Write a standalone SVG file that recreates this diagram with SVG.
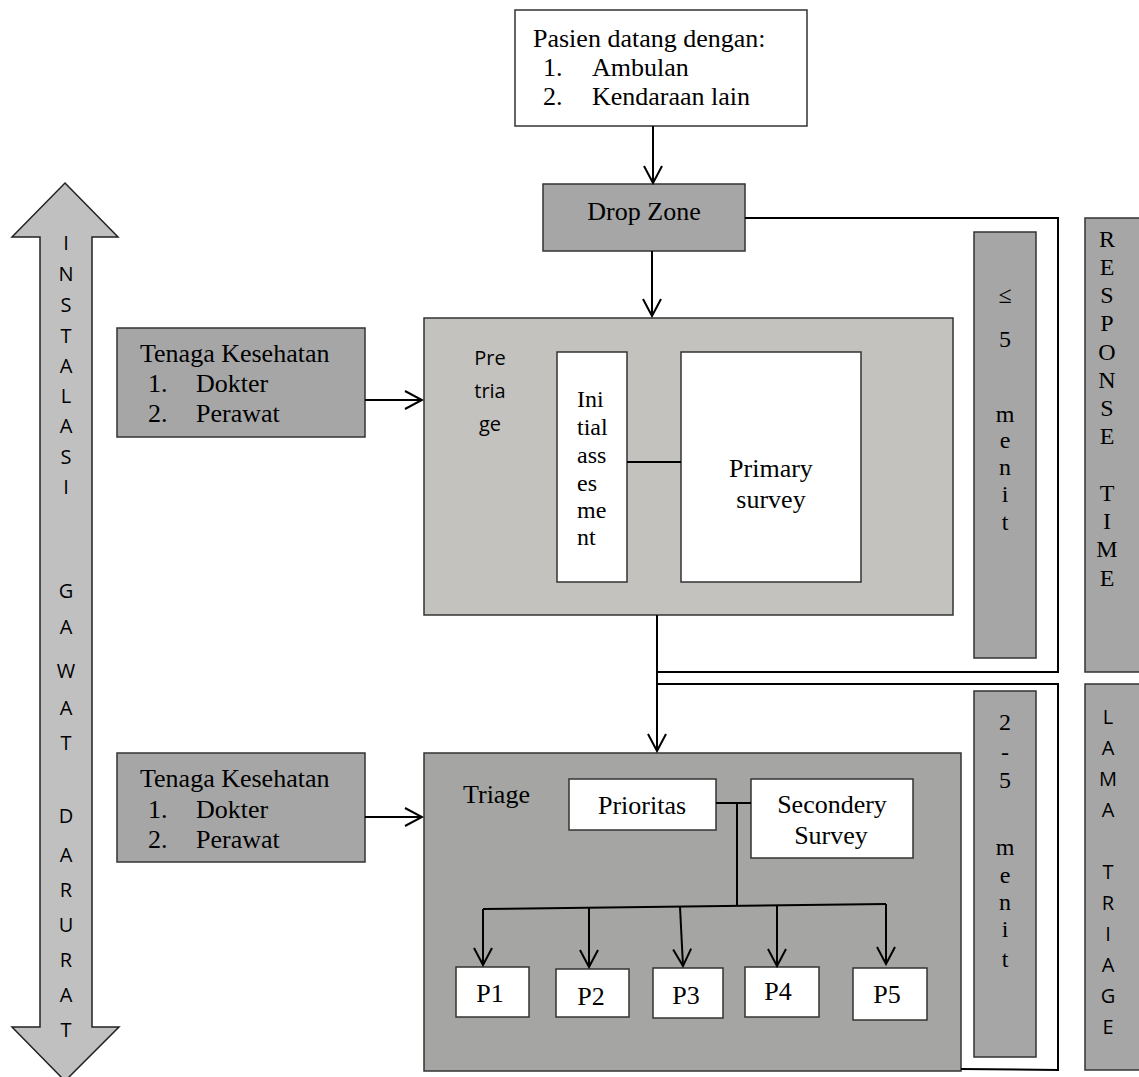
<svg xmlns="http://www.w3.org/2000/svg" width="1139" height="1077" viewBox="0 0 1139 1077">
  <defs>
    <marker id="vhead" viewBox="0 0 20 20" refX="18" refY="10" markerWidth="20" markerHeight="20" markerUnits="userSpaceOnUse" orient="auto">
      <path d="M1,1 L18,10 L1,19" fill="none" stroke="#000" stroke-width="2"/>
    </marker>
  </defs>
  <style>
    .serif { font-family: "Liberation Serif", "Times New Roman", serif; fill: #000; }
    .sans { font-family: "Open Sans", "Noto Sans", sans-serif; fill: #000; }
    .f26 { font-size: 26px; }
    .f24 { font-size: 24px; }
    .f20 { font-size: 20px; }
    .mid { text-anchor: middle; }
    .box { stroke: #333; stroke-width: 1.5; }
    .white { fill: #fff; }
    .dark { fill: #a6a6a6; }
    .light { fill: #c3c2bf; }
    .triagefill { fill: #a5a6a3; }
    .wire { fill: none; stroke: #000; stroke-width: 2; }
    .arrow { fill: none; stroke: #000; stroke-width: 2; marker-end: url(#vhead); }
  </style>

  <rect width="1139" height="1077" fill="#fff"/>

  <!-- Vertical double arrow: emergency unit -->
  <g id="instalasi">
    <polygon points="65,183 118,237 92,237 92,1027 119,1027 65,1081 12,1027 40,1027 40,237 12,237" fill="#c0c0c0" stroke="#222" stroke-width="1.5"/>
    <g class="sans f20 mid">
      <text x="66" y="250">I</text>
      <text x="66" y="281">N</text>
      <text x="66" y="312">S</text>
      <text x="66" y="343">T</text>
      <text x="66" y="373">A</text>
      <text x="66" y="403">L</text>
      <text x="66" y="433">A</text>
      <text x="66" y="464">S</text>
      <text x="66" y="494">I</text>
      <text x="66" y="598">G</text>
      <text x="66" y="634">A</text>
      <text x="66" y="678">W</text>
      <text x="66" y="715">A</text>
      <text x="66" y="750">T</text>
      <text x="66" y="823">D</text>
      <text x="66" y="862">A</text>
      <text x="66" y="897">R</text>
      <text x="66" y="932">U</text>
      <text x="66" y="967">R</text>
      <text x="66" y="1002">A</text>
      <text x="66" y="1037">T</text>
    </g>
  </g>

  <!-- Arrival -->
  <g id="pasien">
    <rect class="box white" x="515" y="10" width="292" height="116"/>
    <text class="serif f26" x="533" y="47">Pasien datang dengan:</text>
    <text class="serif f26" x="543" y="76">1.</text>
    <text class="serif f26" x="592" y="76">Ambulan</text>
    <text class="serif f26" x="543" y="105">2.</text>
    <text class="serif f26" x="592" y="105">Kendaraan lain</text>
  </g>

  <g id="dropzone">
    <rect class="box dark" x="543" y="184" width="202" height="67"/>
    <text class="serif f26 mid" x="644" y="220">Drop Zone</text>
  </g>

  <!-- Health staff, pre-triage -->
  <g id="tenaga1">
    <rect class="box dark" x="117" y="328" width="248" height="109"/>
    <text class="serif f26" x="140" y="362">Tenaga Kesehatan</text>
    <text class="serif f26" x="148" y="392">1.</text>
    <text class="serif f26" x="196" y="392">Dokter</text>
    <text class="serif f26" x="148" y="422">2.</text>
    <text class="serif f26" x="196" y="422">Perawat</text>
  </g>

  <g id="pretriage">
    <rect class="box light" x="424" y="318" width="529" height="297"/>
    <text class="sans f20 mid" x="490" y="365">Pre</text>
    <text class="sans f20 mid" x="490" y="398">tria</text>
    <text class="sans f20 mid" x="490" y="431">ge</text>
  </g>

  <g id="initial-assesment">
    <rect class="box white" x="557" y="352" width="70" height="230"/>
    <text class="serif f24" x="577" y="407">Ini</text>
    <text class="serif f24" x="577" y="435">tial</text>
    <text class="serif f24" x="577" y="463">ass</text>
    <text class="serif f24" x="577" y="491">es</text>
    <text class="serif f24" x="577" y="518">me</text>
    <text class="serif f24" x="577" y="545">nt</text>
  </g>

  <g id="primary-survey">
    <rect class="box white" x="681" y="352" width="180" height="230"/>
    <text class="serif f26 mid" x="771" y="477">Primary</text>
    <text class="serif f26 mid" x="771" y="508">survey</text>
  </g>

  <!-- Response time, 5 minutes -->
  <g id="menit5">
    <rect class="box dark" x="974" y="232" width="62" height="426"/>
    <g class="serif f24 mid">
      <text x="1005" y="303">≤</text>
      <text x="1005" y="347">5</text>
      <text x="1005" y="422">m</text>
      <text x="1005" y="448">e</text>
      <text x="1005" y="475">n</text>
      <text x="1005" y="502">i</text>
      <text x="1005" y="530">t</text>
    </g>
  </g>

  <g id="response-time">
    <rect class="box dark" x="1085" y="218" width="60" height="454"/>
    <g class="serif f24 mid">
      <text x="1107" y="247">R</text>
      <text x="1107" y="275">E</text>
      <text x="1107" y="303">S</text>
      <text x="1107" y="331">P</text>
      <text x="1107" y="360">O</text>
      <text x="1107" y="388">N</text>
      <text x="1107" y="416">S</text>
      <text x="1107" y="444">E</text>
      <text x="1107" y="501">T</text>
      <text x="1107" y="529">I</text>
      <text x="1107" y="557">M</text>
      <text x="1107" y="586">E</text>
    </g>
  </g>

  <!-- Health staff, triage -->
  <g id="tenaga2">
    <rect class="box dark" x="117" y="753" width="248" height="109"/>
    <text class="serif f26" x="140" y="787">Tenaga Kesehatan</text>
    <text class="serif f26" x="148" y="818">1.</text>
    <text class="serif f26" x="196" y="818">Dokter</text>
    <text class="serif f26" x="148" y="848">2.</text>
    <text class="serif f26" x="196" y="848">Perawat</text>
  </g>

  <g id="triage">
    <rect class="box triagefill" x="424" y="753" width="537" height="318"/>
    <text class="serif f26" x="463" y="803">Triage</text>
  </g>

  <g id="prioritas">
    <rect class="box white" x="569" y="779" width="147" height="51"/>
    <text class="serif f26 mid" x="642" y="814">Prioritas</text>
  </g>

  <g id="secondery-survey">
    <rect class="box white" x="751" y="779" width="162" height="79"/>
    <text class="serif f26 mid" x="832" y="813">Secondery</text>
    <text class="serif f26 mid" x="831" y="844">Survey</text>
  </g>

  <g id="p1"><rect class="box white" x="456" y="967" width="73" height="50"/><text class="serif f26 mid" x="490" y="1002">P1</text></g>
  <g id="p2"><rect class="box white" x="556" y="969" width="73" height="48"/><text class="serif f26 mid" x="591" y="1005">P2</text></g>
  <g id="p3"><rect class="box white" x="653" y="968" width="70" height="50"/><text class="serif f26 mid" x="686" y="1004">P3</text></g>
  <g id="p4"><rect class="box white" x="745" y="967" width="74" height="50"/><text class="serif f26 mid" x="778" y="1000">P4</text></g>
  <g id="p5"><rect class="box white" x="853" y="968" width="74" height="52"/><text class="serif f26 mid" x="887" y="1003">P5</text></g>

  <!-- Triage duration, 2-5 minutes -->
  <g id="menit25">
    <rect class="box dark" x="974" y="691" width="62" height="366"/>
    <g class="serif f24 mid">
      <text x="1005" y="730">2</text>
      <text x="1005" y="760">-</text>
      <text x="1005" y="788">5</text>
      <text x="1005" y="855">m</text>
      <text x="1005" y="883">e</text>
      <text x="1005" y="910">n</text>
      <text x="1005" y="937">i</text>
      <text x="1005" y="967">t</text>
    </g>
  </g>

  <g id="lama-triage">
    <rect class="box dark" x="1085" y="684" width="60" height="386"/>
    <g class="sans f20 mid">
      <text x="1108" y="724">L</text>
      <text x="1108" y="755">A</text>
      <text x="1108" y="786">M</text>
      <text x="1108" y="817">A</text>
      <text x="1108" y="879">T</text>
      <text x="1108" y="910">R</text>
      <text x="1108" y="941">I</text>
      <text x="1108" y="972">A</text>
      <text x="1108" y="1003">G</text>
      <text x="1108" y="1034">E</text>
    </g>
  </g>

  <!-- Connectors -->
  <g id="connectors">
    <line class="arrow" x1="653" y1="126" x2="653" y2="183"/>
    <line class="arrow" x1="652" y1="251" x2="652" y2="316"/>
    <line class="arrow" x1="365" y1="400" x2="422" y2="400"/>
    <line class="arrow" x1="365" y1="817" x2="422" y2="817"/>
    <line class="wire" x1="627" y1="462" x2="681" y2="462"/>
    <line class="arrow" x1="657" y1="615" x2="657" y2="751"/>
    <!-- brackets spanning the time columns -->
    <polyline class="wire" points="745,218 1058,218 1058,672 657,672"/>
    <polyline class="wire" points="657,684 1058,684 1058,1070 961,1069"/>
    <!-- triage tree -->
    <line class="wire" x1="716" y1="803" x2="751" y2="803"/>
    <line class="wire" x1="737" y1="803" x2="737" y2="906"/>
    <line class="wire" x1="483" y1="909" x2="886" y2="904"/>
    <line class="arrow" x1="483" y1="909" x2="483" y2="965"/>
    <line class="arrow" x1="589" y1="908" x2="589" y2="967"/>
    <line class="arrow" x1="680" y1="907" x2="683" y2="966"/>
    <line class="arrow" x1="777" y1="906" x2="777" y2="966"/>
    <line class="arrow" x1="886" y1="904" x2="886" y2="964"/>
  </g>
</svg>
